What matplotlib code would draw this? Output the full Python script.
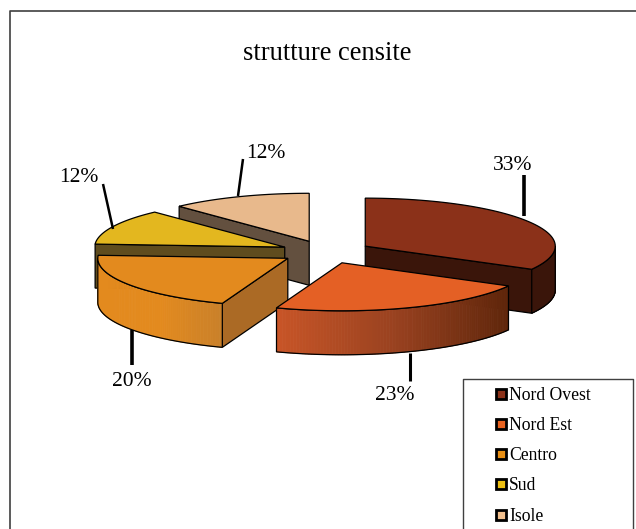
import numpy as np
import matplotlib
matplotlib.use("Agg")
import matplotlib.pyplot as plt
from matplotlib.colors import LinearSegmentedColormap
from matplotlib.patches import Polygon, Rectangle

plt.rcParams['font.family'] = ['Liberation Serif', 'DejaVu Serif']

# data, labels on the chart show these rounded
categories = ['Nord Ovest', 'Nord Est', 'Centro', 'Sud', 'Isole']
shares = [33.0, 22.6, 20.4, 12.0, 12.0]

# colours per slice
top_colors = ['#8B3119', '#E46025', '#E38A1E', '#E3B71F', '#E8B98C']
side_colors = ['#3A150A', '#5F260B', '#AB6A25', '#5F4C1E', '#63503F']
arc_colors = [['#3A150A', '#3A150A'],
              ['#C85527', '#9A4220', '#5F260B'],
              ['#E38A1E', '#E38A1E', '#C9802A'],
              ['#5F4C1E', '#5F4C1E'],
              ['#63503F', '#63503F']]
legend_colors = ['#8B3119', '#E8621F', '#E88F14', '#EDC013', '#F2C08E']

# pie geometry, in pixels of the picture
CX, CY = 326, 252
A, B = 190, 48
DEPTH = 44
EXPLODE = 0.24

# label and leader placement per slice: text x, y, then leader ends
label_pos = [(513, 165), (395, 396), (132, 381), (79, 178), (266, 154)]
leader_pos = [((524, 175), (524, 216)), ((410, 353), (410, 381)),
              ((132, 330), (132, 365)), ((103, 184), (113, 229)),
              ((243, 159), (238, 196))]
leader_lw = [2.6, 2.2, 2.6, 1.8, 1.8]


def rim(theta, apex):
    """Point on the top ellipse, theta in degrees clockwise from 12 o'clock"""
    t = np.radians(theta)
    return np.column_stack([apex[0] + A * np.sin(t), apex[1] - B * np.cos(t)])


def down(pts):
    return pts + [0, DEPTH]


fig = plt.figure(figsize=(6.36, 5.29), dpi=100)
ax = fig.add_axes([0, 0, 1, 1])
ax.set_xlim(0, 636)
ax.set_ylim(529, 0)
ax.axis('off')

# outer frame, its right side is cut off in the reference
ax.plot([9.5, 9.5, 636], [529, 10.5, 10.5], color='#404040', lw=1.2)

ax.text(327.5, 53, 'strutture censite', fontsize=19.1, ha='center', va='center')

# slice angles from the shares
total = sum(shares)
edges = np.cumsum([0] + shares) / total * 360

# back to front
for i in [4, 3, 2, 0, 1]:
    th1, th2 = edges[i], edges[i + 1]
    mid = np.radians((th1 + th2) / 2)
    apex = (CX + EXPLODE * A * np.sin(mid), CY - EXPLODE * B * np.cos(mid))
    apex_pt = np.array([apex])

    # flat cut walls, only the ones facing the viewer
    if np.sin(np.radians(th1)) < 0 or np.sin(np.radians(th2)) > 0:
        th = th1 if np.sin(np.radians(th1)) < 0 else th2
        edge = np.vstack([apex_pt, rim(th, apex)])
        ax.add_patch(Polygon(np.vstack([edge, down(edge)[::-1]]), closed=True,
                             facecolor=side_colors[i], edgecolor='black', lw=0.9))

    # curved wall, front half only
    lo, hi = max(th1, 90), min(th2, 270)
    if hi > lo:
        cmap = LinearSegmentedColormap.from_list('wall', arc_colors[i])
        ths = np.linspace(lo, hi, 90)
        pts = rim(ths, apex)
        xmin, xmax = pts[:, 0].min(), pts[:, 0].max()
        for j in range(len(ths) - 1):
            seg = pts[j:j + 2]
            c = cmap((seg[:, 0].mean() - xmin) / (xmax - xmin))
            ax.add_patch(Polygon(np.vstack([seg, down(seg)[::-1]]), closed=True,
                                 facecolor=c, edgecolor=c, lw=0.6))
        ax.add_patch(Polygon(np.vstack([pts, down(pts)[::-1]]), closed=True,
                             fill=False, edgecolor='black', lw=0.9))

    # top face
    top = np.vstack([apex_pt, rim(np.linspace(th1, th2, 120), apex)])
    ax.add_patch(Polygon(top, closed=True, facecolor=top_colors[i], edgecolor='black', lw=0.9))

# leaders and percent labels
for i, s in enumerate(shares):
    (x0, y0), (x1, y1) = leader_pos[i]
    ax.plot([x0, x1], [y0, y1], color='black', lw=leader_lw[i], solid_capstyle='butt')
    ax.text(label_pos[i][0], label_pos[i][1], f'{s:.0f}%', fontsize=15.5, ha='center', va='center')

# legend box, runs off the bottom of the picture
ax.plot([462.5, 462.5, 632.5, 632.5], [529, 378.5, 378.5, 529], color='#404040', lw=1)
for i, name in enumerate(categories):
    y = 394 + i * 30.3
    ax.add_patch(Rectangle((496, y - 5.5), 10, 10, facecolor=legend_colors[i], edgecolor='black', lw=2))
    ax.text(509, y + 1, name, fontsize=12.7, ha='left', va='center')

plt.savefig("out.png", dpi=100)
